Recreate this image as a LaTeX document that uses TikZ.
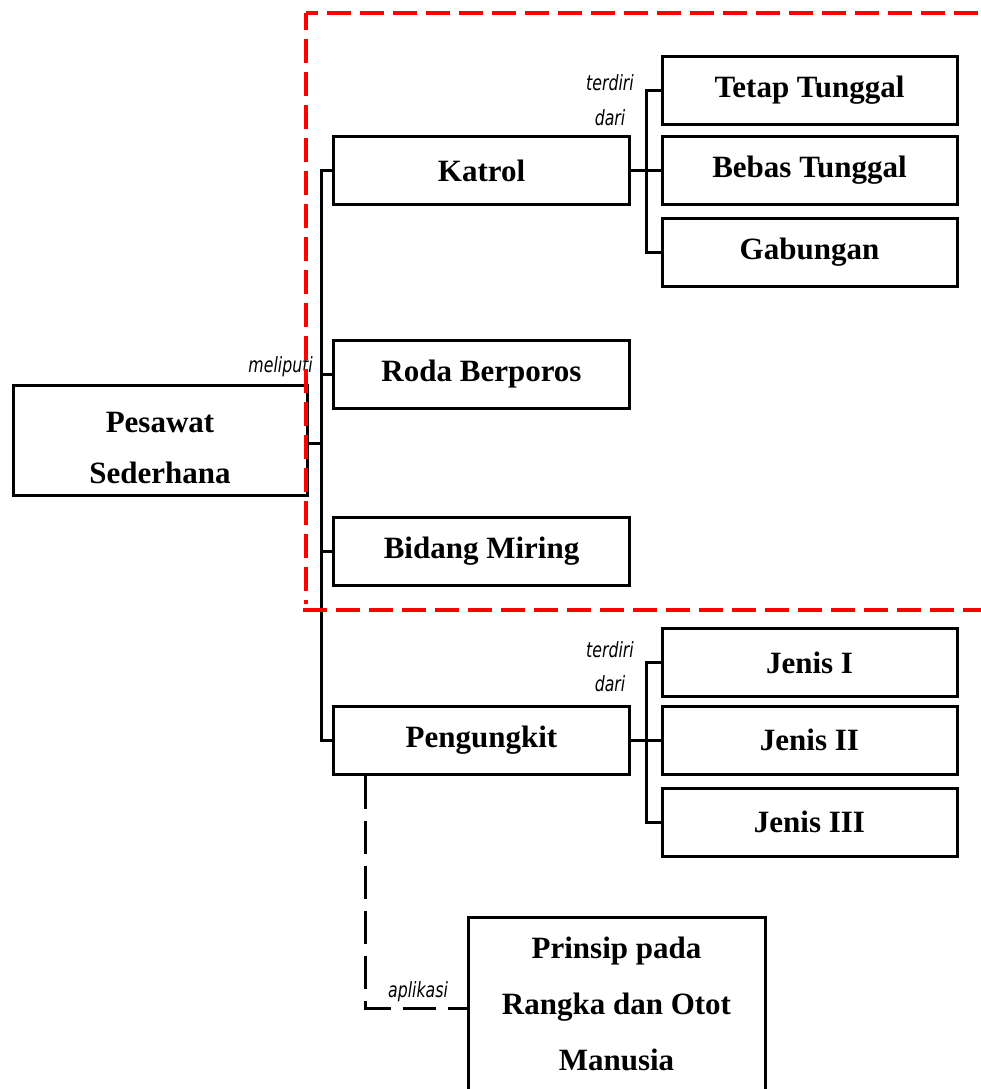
\documentclass[tikz,border=0pt]{standalone}
\usepackage{fontspec}
\setmainfont{Liberation Serif}
\newfontfamily\lblfont{DejaVu Sans}[FakeStretch=0.75]
\begin{document}
\begin{tikzpicture}[x=1pt,y=-1pt,
  boxfont/.style={font=\fontsize{31}{51}\selectfont\bfseries, align=center},
  box/.style={draw, line width=3pt, minimum width=296pt, minimum height=68pt, inner sep=0pt, boxfont},
  conn/.style={line width=3pt},
  apl/.style={line width=3pt, dash pattern=on 33pt off 12pt},
  lbl/.style={font=\lblfont\itshape\fontsize{21}{24}\selectfont, inner sep=0pt},
  redbox/.style={red, line width=4pt, dash pattern=on 24pt off 9pt}]
\useasboundingbox (0,0) rectangle (981,1089);
\clip (0,0) rectangle (981,1089);
% nodes
\node[box, minimum width=294pt, minimum height=110pt,
  label={[boxfont, inner sep=0pt, yshift=-8pt]center:Pesawat\\Sederhana}] (ps) at (160,440) {};
\node[box] (katrol) at (481.5,170.5) {Katrol};
\node[box] (roda) at (481.5,374) {Roda Berporos};
\node[box] (bidang) at (481.5,551) {Bidang Miring};
\node[box] (peng) at (481.5,740) {Pengungkit};
\node[box, minimum width=295pt] (tetap) at (809.5,90.5) {Tetap Tunggal};
\node[box, minimum width=295pt] (bebas) at (809.5,170.5) {Bebas Tunggal};
\node[box, minimum width=295pt] (gab) at (809.5,252.5) {Gabungan};
\node[box, minimum width=295pt] (j1) at (809.5,662.5) {Jenis I};
\node[box, minimum width=295pt] (j2) at (809.5,740) {Jenis II};
\node[box, minimum width=295pt] (j3) at (809.5,822) {Jenis III};
\node[box, minimum width=297pt, minimum height=174pt, font=\fontsize{31}{56}\selectfont\bfseries] (prinsip) at (616.5,1004) {Prinsip pada\\Rangka dan Otot\\Manusia};
% labels
\node[lbl, anchor=base east] (lmel) at (313,372) {meliputi};
\node[lbl, anchor=base] (lter1) at (610,91) {terdiri};
\node[lbl, anchor=base] (lda1) at (610,125) {dari};
\node[lbl, anchor=base] (lter2) at (610,657) {terdiri};
\node[lbl, anchor=base] (lda2) at (610,691) {dari};
\node[lbl, anchor=base] (lapl) at (418,997) {aplikasi};
% connectors
\coordinate (trunk) at (321,443);
\coordinate (br1) at (646,170.5);
\coordinate (br2) at (646,740);
\coordinate (ap) at (365,1008);
\draw[conn] (ps.east |- trunk) -- (trunk);
\draw[conn] (katrol.west) -- (katrol.west -| trunk) -- (peng.west -| trunk) -- (peng.west);
\draw[conn] (roda.west) -- (roda.west -| trunk);
\draw[conn] (bidang.west) -- (bidang.west -| trunk);
\draw[conn] (katrol.east) -- (bebas.west);
\draw[conn] (tetap.west) -- (tetap.west -| br1) -- (gab.west -| br1) -- (gab.west);
\draw[conn] (peng.east) -- (j2.west);
\draw[conn] (j1.west) -- (j1.west -| br2) -- (j3.west -| br2) -- (j3.west);
\draw[apl] (peng.south -| ap) -- (ap) -- (ap -| prinsip.west);
% red dashed frame
\draw[redbox, dash phase=12pt] (306,13) -- (1000,13);
\draw[redbox, dash phase=7pt] (306,13) -- (306,604);
\draw[redbox] (303,610) -- (1000,610);
\end{tikzpicture}
\end{document}
